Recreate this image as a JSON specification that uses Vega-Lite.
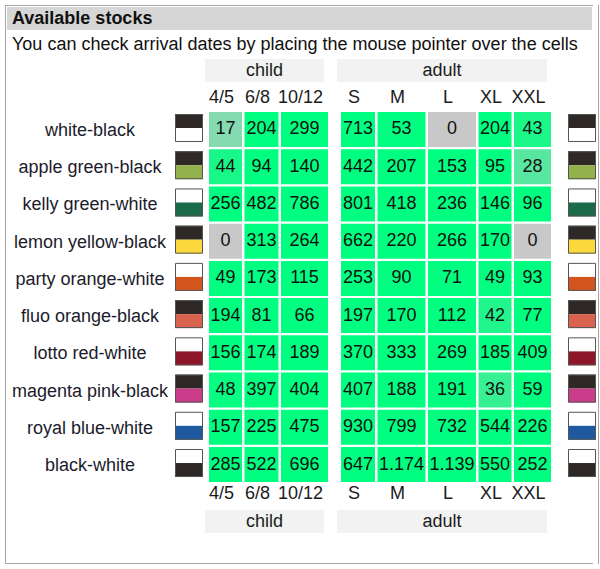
{
  "$schema": "https://vega.github.io/schema/vega-lite/v6.json",
  "padding": {"left": 5, "top": 5, "right": 5, "bottom": 4},
  "background": "white",
  "config": {
    "view": {"stroke": null},
    "concat": {"spacing": 0},
    "locale": {"number": {"decimal": ",", "thousands": ".", "grouping": [3], "currency": ["", " €"]}},
    "text": {"font": "Liberation Sans", "fontSize": 18, "color": "#1b1b1b"}
  },
  "datasets": {
    "texts": [
      {"role": "title", "text": "Available stocks"},
      {"role": "subtitle", "text": "You can check arrival dates by placing the mouse pointer over the cells"}
    ],
    "groups": [{"group": "child"}, {"group": "adult"}],
    "sizes": [
      {"group": "child", "size": "4/5"}, {"group": "child", "size": "6/8"}, {"group": "child", "size": "10/12"},
      {"group": "adult", "size": "S"}, {"group": "adult", "size": "M"}, {"group": "adult", "size": "L"}, {"group": "adult", "size": "XL"}, {"group": "adult", "size": "XXL"}
    ],
    "swatch": [
      {"color": "white-black", "part": "top", "shade": "black"}, {"color": "white-black", "part": "bottom", "shade": "white"},
      {"color": "apple green-black", "part": "top", "shade": "black"}, {"color": "apple green-black", "part": "bottom", "shade": "apple green"},
      {"color": "kelly green-white", "part": "top", "shade": "white"}, {"color": "kelly green-white", "part": "bottom", "shade": "kelly green"},
      {"color": "lemon yellow-black", "part": "top", "shade": "black"}, {"color": "lemon yellow-black", "part": "bottom", "shade": "lemon yellow"},
      {"color": "party orange-white", "part": "top", "shade": "white"}, {"color": "party orange-white", "part": "bottom", "shade": "party orange"},
      {"color": "fluo orange-black", "part": "top", "shade": "black"}, {"color": "fluo orange-black", "part": "bottom", "shade": "fluo orange"},
      {"color": "lotto red-white", "part": "top", "shade": "white"}, {"color": "lotto red-white", "part": "bottom", "shade": "lotto red"},
      {"color": "magenta pink-black", "part": "top", "shade": "black"}, {"color": "magenta pink-black", "part": "bottom", "shade": "magenta pink"},
      {"color": "royal blue-white", "part": "top", "shade": "white"}, {"color": "royal blue-white", "part": "bottom", "shade": "royal blue"},
      {"color": "black-white", "part": "top", "shade": "white"}, {"color": "black-white", "part": "bottom", "shade": "black"}
    ],
    "stock": [
      {"color": "white-black", "size": "4/5", "stock": 17}, {"color": "white-black", "size": "6/8", "stock": 204}, {"color": "white-black", "size": "10/12", "stock": 299},
      {"color": "white-black", "size": "S", "stock": 713}, {"color": "white-black", "size": "M", "stock": 53}, {"color": "white-black", "size": "L", "stock": 0}, {"color": "white-black", "size": "XL", "stock": 204}, {"color": "white-black", "size": "XXL", "stock": 43},
      {"color": "apple green-black", "size": "4/5", "stock": 44}, {"color": "apple green-black", "size": "6/8", "stock": 94}, {"color": "apple green-black", "size": "10/12", "stock": 140},
      {"color": "apple green-black", "size": "S", "stock": 442}, {"color": "apple green-black", "size": "M", "stock": 207}, {"color": "apple green-black", "size": "L", "stock": 153}, {"color": "apple green-black", "size": "XL", "stock": 95}, {"color": "apple green-black", "size": "XXL", "stock": 28},
      {"color": "kelly green-white", "size": "4/5", "stock": 256}, {"color": "kelly green-white", "size": "6/8", "stock": 482}, {"color": "kelly green-white", "size": "10/12", "stock": 786},
      {"color": "kelly green-white", "size": "S", "stock": 801}, {"color": "kelly green-white", "size": "M", "stock": 418}, {"color": "kelly green-white", "size": "L", "stock": 236}, {"color": "kelly green-white", "size": "XL", "stock": 146}, {"color": "kelly green-white", "size": "XXL", "stock": 96},
      {"color": "lemon yellow-black", "size": "4/5", "stock": 0}, {"color": "lemon yellow-black", "size": "6/8", "stock": 313}, {"color": "lemon yellow-black", "size": "10/12", "stock": 264},
      {"color": "lemon yellow-black", "size": "S", "stock": 662}, {"color": "lemon yellow-black", "size": "M", "stock": 220}, {"color": "lemon yellow-black", "size": "L", "stock": 266}, {"color": "lemon yellow-black", "size": "XL", "stock": 170}, {"color": "lemon yellow-black", "size": "XXL", "stock": 0},
      {"color": "party orange-white", "size": "4/5", "stock": 49}, {"color": "party orange-white", "size": "6/8", "stock": 173}, {"color": "party orange-white", "size": "10/12", "stock": 115},
      {"color": "party orange-white", "size": "S", "stock": 253}, {"color": "party orange-white", "size": "M", "stock": 90}, {"color": "party orange-white", "size": "L", "stock": 71}, {"color": "party orange-white", "size": "XL", "stock": 49}, {"color": "party orange-white", "size": "XXL", "stock": 93},
      {"color": "fluo orange-black", "size": "4/5", "stock": 194}, {"color": "fluo orange-black", "size": "6/8", "stock": 81}, {"color": "fluo orange-black", "size": "10/12", "stock": 66},
      {"color": "fluo orange-black", "size": "S", "stock": 197}, {"color": "fluo orange-black", "size": "M", "stock": 170}, {"color": "fluo orange-black", "size": "L", "stock": 112}, {"color": "fluo orange-black", "size": "XL", "stock": 42}, {"color": "fluo orange-black", "size": "XXL", "stock": 77},
      {"color": "lotto red-white", "size": "4/5", "stock": 156}, {"color": "lotto red-white", "size": "6/8", "stock": 174}, {"color": "lotto red-white", "size": "10/12", "stock": 189},
      {"color": "lotto red-white", "size": "S", "stock": 370}, {"color": "lotto red-white", "size": "M", "stock": 333}, {"color": "lotto red-white", "size": "L", "stock": 269}, {"color": "lotto red-white", "size": "XL", "stock": 185}, {"color": "lotto red-white", "size": "XXL", "stock": 409},
      {"color": "magenta pink-black", "size": "4/5", "stock": 48}, {"color": "magenta pink-black", "size": "6/8", "stock": 397}, {"color": "magenta pink-black", "size": "10/12", "stock": 404},
      {"color": "magenta pink-black", "size": "S", "stock": 407}, {"color": "magenta pink-black", "size": "M", "stock": 188}, {"color": "magenta pink-black", "size": "L", "stock": 191}, {"color": "magenta pink-black", "size": "XL", "stock": 36}, {"color": "magenta pink-black", "size": "XXL", "stock": 59},
      {"color": "royal blue-white", "size": "4/5", "stock": 157}, {"color": "royal blue-white", "size": "6/8", "stock": 225}, {"color": "royal blue-white", "size": "10/12", "stock": 475},
      {"color": "royal blue-white", "size": "S", "stock": 930}, {"color": "royal blue-white", "size": "M", "stock": 799}, {"color": "royal blue-white", "size": "L", "stock": 732}, {"color": "royal blue-white", "size": "XL", "stock": 544}, {"color": "royal blue-white", "size": "XXL", "stock": 226},
      {"color": "black-white", "size": "4/5", "stock": 285}, {"color": "black-white", "size": "6/8", "stock": 522}, {"color": "black-white", "size": "10/12", "stock": 696},
      {"color": "black-white", "size": "S", "stock": 647}, {"color": "black-white", "size": "M", "stock": 1174}, {"color": "black-white", "size": "L", "stock": 1139}, {"color": "black-white", "size": "XL", "stock": 550}, {"color": "black-white", "size": "XXL", "stock": 252}
    ]
  },
  "spacing": 0,
  "hconcat": [
    {"width": 1, "height": 559, "view": {"fill": "#a6a6a6"}, "data": {"values": []}, "mark": "point", "encoding": {}},
    {
      "spacing": 0,
      "vconcat": [
        {"width": 587, "height": 1, "view": {"fill": "#a6a6a6"}, "data": {"values": []}, "mark": "point", "encoding": {}},
        {
          "spacing": 0,
          "hconcat": [
            {"width": 1, "height": 1, "data": {"values": []}, "mark": "point", "encoding": {}},
            {
              "spacing": 0,
              "vconcat": [
                {"width": 585, "height": 1, "data": {"values": []}, "mark": "point", "encoding": {}},
                {
                  "width": 585, "height": 23, "view": {"fill": "#d6d6d6"},
                  "data": {"name": "texts"},
                  "transform": [{"filter": {"field": "role", "equal": "title"}}],
                  "mark": {"type": "text", "fontWeight": "bold", "align": "left", "dx": 5, "color": "#111111"},
                  "encoding": {
                    "x": {"field": "text", "type": "nominal", "axis": null, "scale": {"type": "band", "paddingInner": 0, "paddingOuter": 0}, "bandPosition": 0},
                    "text": {"field": "text"}
                  }
                },
                {
                  "width": 585, "height": 29,
                  "data": {"name": "texts"},
                  "transform": [{"filter": {"field": "role", "equal": "subtitle"}}],
                  "mark": {"type": "text", "align": "left", "dx": 5, "color": "#111111"},
                  "encoding": {
                    "x": {"field": "text", "type": "nominal", "axis": null, "scale": {"type": "band", "paddingInner": 0, "paddingOuter": 0}, "bandPosition": 0},
                    "text": {"field": "text"}
                  }
                },
                {
                  "spacing": 0,
                  "hconcat": [
                    {"width": 198, "height": 23, "data": {"values": []}, "mark": "point", "encoding": {}},
                    {"width": 119, "height": 23, "view": {"fill": "#f2f2f2"}, "data": {"name": "groups"}, "transform": [{"filter": {"field": "group", "equal": "child"}}], "mark": {"type": "text"}, "encoding": {"text": {"field": "group"}}},
                    {"width": 13, "height": 23, "data": {"values": []}, "mark": "point", "encoding": {}},
                    {"width": 210, "height": 23, "view": {"fill": "#f2f2f2"}, "data": {"name": "groups"}, "transform": [{"filter": {"field": "group", "equal": "adult"}}], "mark": {"type": "text"}, "encoding": {"text": {"field": "group"}}}
                  ]
                },
                {
                  "spacing": 0,
                  "hconcat": [
                    {"width": 198, "height": 29, "data": {"values": []}, "mark": "point", "encoding": {}},
                    {"spacing": 2.5, "hconcat": [
                      {"width": 33, "height": 29, "data": {"name": "sizes"}, "transform": [{"filter": {"field": "size", "equal": "4/5"}}], "mark": {"type": "text", "dy": 1.5}, "encoding": {"text": {"field": "size"}}},
                      {"width": 34, "height": 29, "data": {"name": "sizes"}, "transform": [{"filter": {"field": "size", "equal": "6/8"}}], "mark": {"type": "text", "dy": 1.5}, "encoding": {"text": {"field": "size"}}},
                      {"width": 47, "height": 29, "data": {"name": "sizes"}, "transform": [{"filter": {"field": "size", "equal": "10/12"}}], "mark": {"type": "text", "dy": 1.5}, "encoding": {"text": {"field": "size"}}}
                    ]},
                    {"width": 13, "height": 29, "data": {"values": []}, "mark": "point", "encoding": {}},
                    {"spacing": 2.5, "hconcat": [
                      {"width": 34, "height": 29, "data": {"name": "sizes"}, "transform": [{"filter": {"field": "size", "equal": "S"}}], "mark": {"type": "text", "dy": 1.5}, "encoding": {"text": {"field": "size"}}},
                      {"width": 48, "height": 29, "data": {"name": "sizes"}, "transform": [{"filter": {"field": "size", "equal": "M"}}], "mark": {"type": "text", "dy": 1.5}, "encoding": {"text": {"field": "size"}}},
                      {"width": 48, "height": 29, "data": {"name": "sizes"}, "transform": [{"filter": {"field": "size", "equal": "L"}}], "mark": {"type": "text", "dy": 1.5}, "encoding": {"text": {"field": "size"}}},
                      {"width": 33, "height": 29, "data": {"name": "sizes"}, "transform": [{"filter": {"field": "size", "equal": "XL"}}], "mark": {"type": "text", "dy": 1.5}, "encoding": {"text": {"field": "size"}}},
                      {"width": 37, "height": 29, "data": {"name": "sizes"}, "transform": [{"filter": {"field": "size", "equal": "XXL"}}], "mark": {"type": "text", "dy": 1.5}, "encoding": {"text": {"field": "size"}}}
                    ]}
                  ]
                },
                {
                  "spacing": 0,
                  "hconcat": [
                    {
                      "width": 166, "height": 372,
                      "data": {"name": "swatch"},
                      "transform": [{"filter": {"field": "part", "equal": "top"}}],
                      "mark": {"type": "text", "color": "#1b1b2b", "dy": 1.5},
                      "encoding": {
                        "y": {"field": "color", "type": "nominal", "axis": null, "scale": {"type": "band", "domain": ["white-black", "apple green-black", "kelly green-white", "lemon yellow-black", "party orange-white", "fluo orange-black", "lotto red-white", "magenta pink-black", "royal blue-white", "black-white"], "paddingInner": 0.06, "paddingOuter": 0.027}},
                        "text": {"field": "color"}
                      }
                    },
                    {
                      "width": 28, "height": 372,
                      "data": {"name": "swatch"},
                      "layer": [
                        {
                          "mark": {"type": "rect"},
                          "encoding": {
                            "y": {"field": "color", "type": "nominal", "axis": null, "scale": {"type": "band", "domain": ["white-black", "apple green-black", "kelly green-white", "lemon yellow-black", "party orange-white", "fluo orange-black", "lotto red-white", "magenta pink-black", "royal blue-white", "black-white"], "paddingInner": 0.06, "paddingOuter": 0.027}},
                            "yOffset": {"field": "part", "type": "nominal", "scale": {"domain": ["top", "bottom"], "paddingInner": 0, "paddingOuter": 0.25, "align": 0.29}},
                            "color": {"field": "shade", "type": "nominal", "legend": null, "scale": {"domain": ["black", "white", "apple green", "kelly green", "lemon yellow", "party orange", "fluo orange", "lotto red", "magenta pink", "royal blue"], "range": ["#2e2926", "#ffffff", "#93b24c", "#1b6b4b", "#fbd93c", "#d4541e", "#d8624e", "#8d1729", "#cb3d8b", "#1f5aa1"]}}
                          }
                        },
                        {
                          "transform": [{"filter": {"field": "part", "equal": "top"}}],
                          "mark": {"type": "point", "shape": "square", "size": 729, "filled": false, "stroke": "#555555", "strokeWidth": 1, "opacity": 1},
                          "encoding": {
                            "y": {"field": "color", "type": "nominal", "bandPosition": 0.457}
                          }
                        }
                      ]
                    },
                    {"width": 4, "height": 372, "data": {"values": []}, "mark": "point", "encoding": {}},
                    {"spacing": 2.5, "hconcat": [
                      {"width": 33, "height": 372, "data": {"name": "stock"}, "transform": [{"filter": {"field": "size", "equal": "4/5"}}],
                       "encoding": {"y": {"field": "color", "type": "nominal", "axis": null, "scale": {"type": "band", "domain": ["white-black", "apple green-black", "kelly green-white", "lemon yellow-black", "party orange-white", "fluo orange-black", "lotto red-white", "magenta pink-black", "royal blue-white", "black-white"], "paddingInner": 0.06, "paddingOuter": 0.027}}},
                       "layer": [
                         {"mark": {"type": "rect"}, "encoding": {"color": {"field": "stock", "type": "quantitative", "legend": null, "scale": {"domain": [0, 50], "range": ["#c8c8c8", "#00ff80"], "clamp": true, "interpolate": "rgb"}}}},
                         {"mark": {"type": "text", "color": "#111111"}, "encoding": {"text": {"field": "stock", "type": "quantitative", "format": ",d"}}}
                       ]},
                      {"width": 34, "height": 372, "data": {"name": "stock"}, "transform": [{"filter": {"field": "size", "equal": "6/8"}}],
                       "encoding": {"y": {"field": "color", "type": "nominal", "axis": null, "scale": {"type": "band", "domain": ["white-black", "apple green-black", "kelly green-white", "lemon yellow-black", "party orange-white", "fluo orange-black", "lotto red-white", "magenta pink-black", "royal blue-white", "black-white"], "paddingInner": 0.06, "paddingOuter": 0.027}}},
                       "layer": [
                         {"mark": {"type": "rect"}, "encoding": {"color": {"field": "stock", "type": "quantitative", "legend": null, "scale": {"domain": [0, 50], "range": ["#c8c8c8", "#00ff80"], "clamp": true, "interpolate": "rgb"}}}},
                         {"mark": {"type": "text", "color": "#111111"}, "encoding": {"text": {"field": "stock", "type": "quantitative", "format": ",d"}}}
                       ]},
                      {"width": 47, "height": 372, "data": {"name": "stock"}, "transform": [{"filter": {"field": "size", "equal": "10/12"}}],
                       "encoding": {"y": {"field": "color", "type": "nominal", "axis": null, "scale": {"type": "band", "domain": ["white-black", "apple green-black", "kelly green-white", "lemon yellow-black", "party orange-white", "fluo orange-black", "lotto red-white", "magenta pink-black", "royal blue-white", "black-white"], "paddingInner": 0.06, "paddingOuter": 0.027}}},
                       "layer": [
                         {"mark": {"type": "rect"}, "encoding": {"color": {"field": "stock", "type": "quantitative", "legend": null, "scale": {"domain": [0, 50], "range": ["#c8c8c8", "#00ff80"], "clamp": true, "interpolate": "rgb"}}}},
                         {"mark": {"type": "text", "color": "#111111"}, "encoding": {"text": {"field": "stock", "type": "quantitative", "format": ",d"}}}
                       ]}
                    ]},
                    {"width": 13, "height": 372, "data": {"values": []}, "mark": "point", "encoding": {}},
                    {"spacing": 2.5, "hconcat": [
                      {"width": 34, "height": 372, "data": {"name": "stock"}, "transform": [{"filter": {"field": "size", "equal": "S"}}],
                       "encoding": {"y": {"field": "color", "type": "nominal", "axis": null, "scale": {"type": "band", "domain": ["white-black", "apple green-black", "kelly green-white", "lemon yellow-black", "party orange-white", "fluo orange-black", "lotto red-white", "magenta pink-black", "royal blue-white", "black-white"], "paddingInner": 0.06, "paddingOuter": 0.027}}},
                       "layer": [
                         {"mark": {"type": "rect"}, "encoding": {"color": {"field": "stock", "type": "quantitative", "legend": null, "scale": {"domain": [0, 50], "range": ["#c8c8c8", "#00ff80"], "clamp": true, "interpolate": "rgb"}}}},
                         {"mark": {"type": "text", "color": "#111111"}, "encoding": {"text": {"field": "stock", "type": "quantitative", "format": ",d"}}}
                       ]},
                      {"width": 48, "height": 372, "data": {"name": "stock"}, "transform": [{"filter": {"field": "size", "equal": "M"}}],
                       "encoding": {"y": {"field": "color", "type": "nominal", "axis": null, "scale": {"type": "band", "domain": ["white-black", "apple green-black", "kelly green-white", "lemon yellow-black", "party orange-white", "fluo orange-black", "lotto red-white", "magenta pink-black", "royal blue-white", "black-white"], "paddingInner": 0.06, "paddingOuter": 0.027}}},
                       "layer": [
                         {"mark": {"type": "rect"}, "encoding": {"color": {"field": "stock", "type": "quantitative", "legend": null, "scale": {"domain": [0, 50], "range": ["#c8c8c8", "#00ff80"], "clamp": true, "interpolate": "rgb"}}}},
                         {"mark": {"type": "text", "color": "#111111"}, "encoding": {"text": {"field": "stock", "type": "quantitative", "format": ",d"}}}
                       ]},
                      {"width": 48, "height": 372, "data": {"name": "stock"}, "transform": [{"filter": {"field": "size", "equal": "L"}}],
                       "encoding": {"y": {"field": "color", "type": "nominal", "axis": null, "scale": {"type": "band", "domain": ["white-black", "apple green-black", "kelly green-white", "lemon yellow-black", "party orange-white", "fluo orange-black", "lotto red-white", "magenta pink-black", "royal blue-white", "black-white"], "paddingInner": 0.06, "paddingOuter": 0.027}}},
                       "layer": [
                         {"mark": {"type": "rect"}, "encoding": {"color": {"field": "stock", "type": "quantitative", "legend": null, "scale": {"domain": [0, 50], "range": ["#c8c8c8", "#00ff80"], "clamp": true, "interpolate": "rgb"}}}},
                         {"mark": {"type": "text", "color": "#111111"}, "encoding": {"text": {"field": "stock", "type": "quantitative", "format": ",d"}}}
                       ]},
                      {"width": 33, "height": 372, "data": {"name": "stock"}, "transform": [{"filter": {"field": "size", "equal": "XL"}}],
                       "encoding": {"y": {"field": "color", "type": "nominal", "axis": null, "scale": {"type": "band", "domain": ["white-black", "apple green-black", "kelly green-white", "lemon yellow-black", "party orange-white", "fluo orange-black", "lotto red-white", "magenta pink-black", "royal blue-white", "black-white"], "paddingInner": 0.06, "paddingOuter": 0.027}}},
                       "layer": [
                         {"mark": {"type": "rect"}, "encoding": {"color": {"field": "stock", "type": "quantitative", "legend": null, "scale": {"domain": [0, 50], "range": ["#c8c8c8", "#00ff80"], "clamp": true, "interpolate": "rgb"}}}},
                         {"mark": {"type": "text", "color": "#111111"}, "encoding": {"text": {"field": "stock", "type": "quantitative", "format": ",d"}}}
                       ]},
                      {"width": 37, "height": 372, "data": {"name": "stock"}, "transform": [{"filter": {"field": "size", "equal": "XXL"}}],
                       "encoding": {"y": {"field": "color", "type": "nominal", "axis": null, "scale": {"type": "band", "domain": ["white-black", "apple green-black", "kelly green-white", "lemon yellow-black", "party orange-white", "fluo orange-black", "lotto red-white", "magenta pink-black", "royal blue-white", "black-white"], "paddingInner": 0.06, "paddingOuter": 0.027}}},
                       "layer": [
                         {"mark": {"type": "rect"}, "encoding": {"color": {"field": "stock", "type": "quantitative", "legend": null, "scale": {"domain": [0, 50], "range": ["#c8c8c8", "#00ff80"], "clamp": true, "interpolate": "rgb"}}}},
                         {"mark": {"type": "text", "color": "#111111"}, "encoding": {"text": {"field": "stock", "type": "quantitative", "format": ",d"}}}
                       ]}
                    ]},
                    {"width": 15, "height": 372, "data": {"values": []}, "mark": "point", "encoding": {}},
                    {
                      "width": 28, "height": 372,
                      "data": {"name": "swatch"},
                      "layer": [
                        {
                          "mark": {"type": "rect"},
                          "encoding": {
                            "y": {"field": "color", "type": "nominal", "axis": null, "scale": {"type": "band", "domain": ["white-black", "apple green-black", "kelly green-white", "lemon yellow-black", "party orange-white", "fluo orange-black", "lotto red-white", "magenta pink-black", "royal blue-white", "black-white"], "paddingInner": 0.06, "paddingOuter": 0.027}},
                            "yOffset": {"field": "part", "type": "nominal", "scale": {"domain": ["top", "bottom"], "paddingInner": 0, "paddingOuter": 0.25, "align": 0.29}},
                            "color": {"field": "shade", "type": "nominal", "legend": null, "scale": {"domain": ["black", "white", "apple green", "kelly green", "lemon yellow", "party orange", "fluo orange", "lotto red", "magenta pink", "royal blue"], "range": ["#2e2926", "#ffffff", "#93b24c", "#1b6b4b", "#fbd93c", "#d4541e", "#d8624e", "#8d1729", "#cb3d8b", "#1f5aa1"]}}
                          }
                        },
                        {
                          "transform": [{"filter": {"field": "part", "equal": "top"}}],
                          "mark": {"type": "point", "shape": "square", "size": 729, "filled": false, "stroke": "#555555", "strokeWidth": 1, "opacity": 1},
                          "encoding": {
                            "y": {"field": "color", "type": "nominal", "bandPosition": 0.457}
                          }
                        }
                      ]
                    }
                  ]
                },
                {
                  "spacing": 0,
                  "hconcat": [
                    {"width": 198, "height": 27, "data": {"values": []}, "mark": "point", "encoding": {}},
                    {"spacing": 2.5, "hconcat": [
                      {"width": 33, "height": 27, "data": {"name": "sizes"}, "transform": [{"filter": {"field": "size", "equal": "4/5"}}], "mark": {"type": "text", "dy": -2.5}, "encoding": {"text": {"field": "size"}}},
                      {"width": 34, "height": 27, "data": {"name": "sizes"}, "transform": [{"filter": {"field": "size", "equal": "6/8"}}], "mark": {"type": "text", "dy": -2.5}, "encoding": {"text": {"field": "size"}}},
                      {"width": 47, "height": 27, "data": {"name": "sizes"}, "transform": [{"filter": {"field": "size", "equal": "10/12"}}], "mark": {"type": "text", "dy": -2.5}, "encoding": {"text": {"field": "size"}}}
                    ]},
                    {"width": 13, "height": 27, "data": {"values": []}, "mark": "point", "encoding": {}},
                    {"spacing": 2.5, "hconcat": [
                      {"width": 34, "height": 27, "data": {"name": "sizes"}, "transform": [{"filter": {"field": "size", "equal": "S"}}], "mark": {"type": "text", "dy": -2.5}, "encoding": {"text": {"field": "size"}}},
                      {"width": 48, "height": 27, "data": {"name": "sizes"}, "transform": [{"filter": {"field": "size", "equal": "M"}}], "mark": {"type": "text", "dy": -2.5}, "encoding": {"text": {"field": "size"}}},
                      {"width": 48, "height": 27, "data": {"name": "sizes"}, "transform": [{"filter": {"field": "size", "equal": "L"}}], "mark": {"type": "text", "dy": -2.5}, "encoding": {"text": {"field": "size"}}},
                      {"width": 33, "height": 27, "data": {"name": "sizes"}, "transform": [{"filter": {"field": "size", "equal": "XL"}}], "mark": {"type": "text", "dy": -2.5}, "encoding": {"text": {"field": "size"}}},
                      {"width": 37, "height": 27, "data": {"name": "sizes"}, "transform": [{"filter": {"field": "size", "equal": "XXL"}}], "mark": {"type": "text", "dy": -2.5}, "encoding": {"text": {"field": "size"}}}
                    ]}
                  ]
                },
                {
                  "spacing": 0,
                  "hconcat": [
                    {"width": 198, "height": 23, "data": {"values": []}, "mark": "point", "encoding": {}},
                    {"width": 119, "height": 23, "view": {"fill": "#f2f2f2"}, "data": {"name": "groups"}, "transform": [{"filter": {"field": "group", "equal": "child"}}], "mark": {"type": "text"}, "encoding": {"text": {"field": "group"}}},
                    {"width": 13, "height": 23, "data": {"values": []}, "mark": "point", "encoding": {}},
                    {"width": 210, "height": 23, "view": {"fill": "#f2f2f2"}, "data": {"name": "groups"}, "transform": [{"filter": {"field": "group", "equal": "adult"}}], "mark": {"type": "text"}, "encoding": {"text": {"field": "group"}}}
                  ]
                },
                {"width": 585, "height": 30, "data": {"values": []}, "mark": "point", "encoding": {}}
              ]
            }
          ]
        },
        {"width": 587, "height": 1, "view": {"fill": "#a6a6a6"}, "data": {"values": []}, "mark": "point", "encoding": {}}
      ]
    },
    {"width": 1, "height": 559, "view": {"fill": "#a6a6a6"}, "data": {"values": []}, "mark": "point", "encoding": {}}
  ]
}
